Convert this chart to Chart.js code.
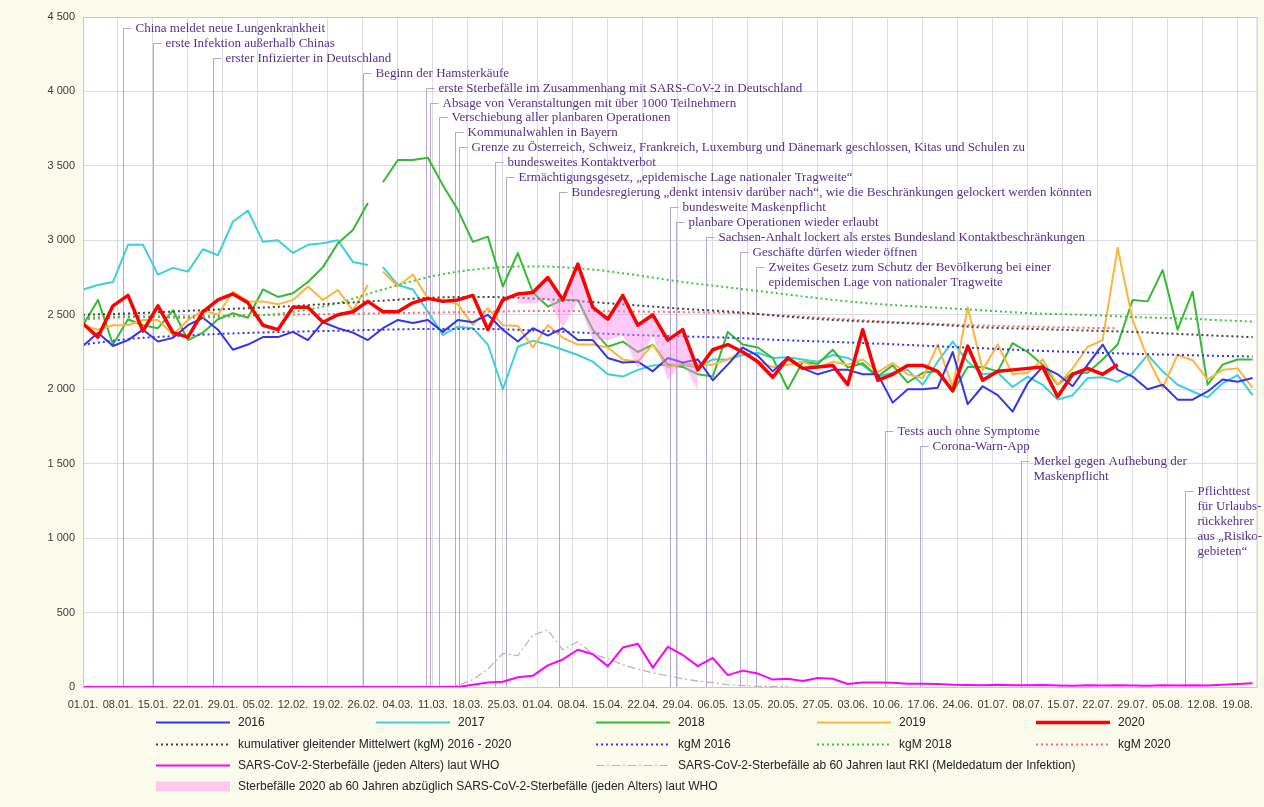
<!DOCTYPE html>
<html>
<head>
<meta charset="utf-8">
<script src="https://cdn.jsdelivr.net/npm/chart.js@4.4.1/dist/chart.umd.min.js"></script>
<style>
  html, body { margin: 0; padding: 0; background: #fbfbec; }
  #wrap { width: 1264px; height: 807px; }
</style>
</head>
<body>
<div id="wrap"><canvas id="sterbefaelle" width="1264" height="807"></canvas></div>
<script>
// x axis: day of year (01.01. = 0), one label per week
var weekLabels = ['01.01.', '08.01.', '15.01.', '22.01.', '29.01.', '05.02.', '12.02.', '19.02.', '26.02.',
  '04.03.', '11.03.', '18.03.', '25.03.', '01.04.', '08.04.', '15.04.', '22.04.', '29.04.', '06.05.',
  '13.05.', '20.05.', '27.05.', '03.06.', '10.06.', '17.06.', '24.06.', '01.07.', '08.07.', '15.07.',
  '22.07.', '29.07.', '05.08.', '12.08.', '19.08.'];
var yTickLabels = ['0', '500', '1 000', '1 500', '2 000', '2 500', '3 000', '3 500', '4 000', '4 500'];

// daily deaths, read every 3rd day
var sampleDays = [];
for (var d = 0; d <= 234; d += 3) sampleDays.push(d);

var deaths2016 = [2290, 2380, 2290, 2330, 2400, 2320, 2345, 2430, 2480, 2400,
  2265, 2300, 2350, 2350, 2385, 2330, 2450, 2410, 2380, 2330,
  2410, 2465, 2445, 2465, 2385, 2465, 2450, 2500, 2400, 2320,
  2410, 2360, 2410, 2330, 2330, 2210, 2180, 2185, 2120, 2210,
  2180, 2200, 2060, 2165, 2280, 2225, 2120, 2215, 2140, 2100,
  2130, 2130, 2100, 2100, 1910, 2000, 2000, 2010, 2250, 1900,
  2020, 1960, 1850, 2040, 2150, 2100, 2020, 2165, 2300, 2130,
  2085, 2000, 2030, 1930, 1930, 1985, 2065, 2050, 2075];
var deaths2017 = [2670, 2700, 2720, 2970, 2970, 2770, 2815, 2790, 2940, 2900,
  3125, 3200, 2990, 3000, 2915, 2970, 2980, 3000, 2855, 2835,
  2820, 2700, 2670, 2520, 2365, 2420, 2410, 2300, 2000, 2285,
  2325, 2300, 2265, 2230, 2185, 2100, 2085, 2130, 2160, 2165,
  2165, 2145, 2200, 2200, 2230, 2245, 2210, 2215, 2200, 2185,
  2230, 2210, 2160, 2085, 2110, 2130, 2030, 2185, 2320, 2185,
  2100, 2110, 2015, 2085, 2030, 1930, 1960, 2075, 2080, 2050,
  2110, 2230, 2120, 2030, 1985, 1945, 2040, 2095, 1960];
var deaths2018 = [2430, 2600, 2300, 2470, 2430, 2410, 2530, 2330, 2380, 2470,
  2510, 2480, 2670, 2620, 2645, 2720, 2820, 2980, 3070, 3250,
  3390, 3540, 3540, 3555, 3370, 3205, 2990, 3025, 2690, 2915,
  2650, 2555, 2600, 2600, 2400, 2285, 2320, 2250, 2300, 2165,
  2150, 2100, 2085, 2385, 2300, 2280, 2210, 2000, 2185, 2170,
  2265, 2145, 2175, 2085, 2160, 2045, 2110, 2120, 1980, 2150,
  2150, 2120, 2310, 2250, 2165, 2030, 2110, 2110, 2200, 2300,
  2600, 2590, 2800, 2400, 2655, 2030, 2165, 2200, 2200];
var deaths2019 = [2430, 2400, 2430, 2430, 2465, 2465, 2365, 2465, 2530, 2500,
  2655, 2590, 2590, 2570, 2600, 2690, 2600, 2665, 2530, 2700,
  2790, 2690, 2770, 2610, 2600, 2570, 2430, 2545, 2430, 2425,
  2280, 2430, 2345, 2300, 2300, 2280, 2200, 2185, 2300, 2145,
  2175, 2165, 2165, 2200, 2250, 2185, 2150, 2165, 2185, 2145,
  2185, 2165, 2200, 2115, 2175, 2100, 2075, 2300, 2015, 2550,
  2130, 2300, 2100, 2110, 2200, 2030, 2140, 2285, 2330, 2950,
  2465, 2210, 2010, 2230, 2195, 2065, 2130, 2140, 2010];
var deaths2020 = [2440, 2350, 2560, 2630, 2390, 2560, 2380, 2350, 2520, 2600,
  2640, 2580, 2430, 2400, 2550, 2550, 2450, 2500, 2520, 2590,
  2520, 2520, 2580, 2610, 2590, 2600, 2630, 2400, 2600, 2640,
  2650, 2750, 2600, 2840, 2550, 2470, 2630, 2430, 2500, 2330,
  2400, 2130, 2265, 2300, 2250, 2185, 2080, 2210, 2140, 2150,
  2160, 2030, 2400, 2060, 2100, 2160, 2160, 2120, 1990, 2290,
  2060, 2120, 2130, 2140, 2150, 1950, 2100, 2140, 2100, 2165];
var covidWho = [0, 0, 0, 0, 0, 0, 0, 0, 0, 0,
  0, 0, 0, 0, 0, 0, 0, 0, 0, 0,
  0, 0, 0, 0, 0, 0,
  15, 30, 35, 65, 75, 145, 185, 250, 220, 140,
  265, 290, 130, 270, 215, 140, 195, 80, 110, 90,
  50, 55, 40, 60, 55, 20, 30, 30, 28, 22,
  22, 20, 15, 14, 12, 15, 12, 12, 14, 10,
  8, 12, 10, 12, 10, 8, 12, 10, 12, 10, 15, 20, 25];
var covidRki60 = [null, null, null, null, null, null, null, null, null, null,
  null, null, null, null, null, null, null, null, null, null,
  null, null,
  0, 0, 3, 10, 50, 120, 225, 210, 349, 383,
  250, 305, 220, 190, 150, 120, 95, 75, 55, 40,
  30, 15, 10, 5, 3, 2];
// days where the 2020 line is shaded against the WHO count
var bandStart = 87, bandEnd = 123;

// cumulative moving averages
var kgmDays = [0, 10, 20, 30, 40, 50, 60, 70, 80, 90, 100, 110, 120, 130, 140, 150, 160, 170, 180, 190, 200, 210, 220, 230, 234];
var kgmAll = [2500, 2510, 2525, 2540, 2555, 2575, 2595, 2615, 2620, 2610, 2590, 2565, 2540, 2520, 2490, 2465, 2450, 2435, 2415, 2405, 2395, 2385, 2370, 2355, 2350];
var kgm2016 = [2300, 2340, 2360, 2375, 2385, 2392, 2400, 2405, 2405, 2395, 2380, 2365, 2355, 2345, 2330, 2318, 2305, 2290, 2275, 2260, 2248, 2238, 2230, 2222, 2220];
var kgm2018 = [2480, 2490, 2480, 2490, 2510, 2570, 2670, 2760, 2810, 2825, 2810, 2770, 2720, 2680, 2640, 2600, 2570, 2550, 2530, 2510, 2500, 2485, 2475, 2460, 2455];
var kgm2020Days = [0, 10, 20, 30, 40, 50, 60, 70, 80, 90, 100, 110, 120, 130, 140, 150, 160, 170, 180, 190, 200, 207];
var kgm2020 = [2470, 2485, 2490, 2495, 2500, 2505, 2510, 2515, 2520, 2525, 2525, 2522, 2518, 2512, 2495, 2475, 2455, 2440, 2428, 2420, 2413, 2410];

// events
var eventDays = [8.1, 14.1, 26.1, 56.1, 68.6, 69.5, 71.3, 74.4, 75.3, 82.5, 84.6, 95.3, 117.5, 118.6, 124.6, 131.5, 134.6, 160.4, 167.4, 187.7, 220.4];
var eventTexts = [
  ['China meldet neue Lungenkrankheit'],
  ['erste Infektion außerhalb Chinas'],
  ['erster Infizierter in Deutschland'],
  ['Beginn der Hamsterkäufe'],
  ['erste Sterbefälle im Zusammenhang mit SARS-CoV-2 in Deutschland'],
  ['Absage von Veranstaltungen mit über 1000 Teilnehmern'],
  ['Verschiebung aller planbaren Operationen'],
  ['Kommunalwahlen in Bayern'],
  ['Grenze zu Österreich, Schweiz, Frankreich, Luxemburg und Dänemark geschlossen, Kitas und Schulen zu'],
  ['bundesweites Kontaktverbot'],
  ['Ermächtigungsgesetz, „epidemische Lage nationaler Tragweite“'],
  ['Bundesregierung „denkt intensiv darüber nach“, wie die Beschränkungen gelockert werden könnten'],
  ['bundesweite Maskenpflicht'],
  ['planbare Operationen wieder erlaubt'],
  ['Sachsen-Anhalt lockert als erstes Bundesland Kontaktbeschränkungen'],
  ['Geschäfte dürfen wieder öffnen'],
  ['Zweites Gesetz zum Schutz der Bevölkerung bei einer', 'epidemischen Lage von nationaler Tragweite'],
  ['Tests auch ohne Symptome'],
  ['Corona-Warn-App'],
  ['Merkel gegen Aufhebung der', 'Maskenpflicht'],
  ['Pflichttest', 'für Urlaubs-', 'rückkehrer', 'aus „Risiko-', 'gebieten“']
];
// height (in deaths) where each event label sits
var eventLabelLevels = [4426, 4326, 4225, 4124, 4023, 3923, 3829, 3728, 3628, 3527, 3426, 3326, 3225, 3124, 3024, 2923, 2822, 1721, 1621, 1520, 1319];

function toPoints(days, values) {
  var pts = [];
  for (var i = 0; i < values.length; i++) pts.push({ x: days[i], y: values[i] });
  return pts;
}
// no 29.02. outside leap years -> break the line there
function leapGap(pts) {
  var out = [];
  pts.forEach(function (p) {
    if (p.x > 59 && out.length && out[out.length - 1].x < 59) out.push({ x: 59, y: null });
    out.push(p);
  });
  return out;
}
function bandPoints() {
  var pts = [];
  for (var i = 0; i < deaths2020.length; i++) {
    if (sampleDays[i] >= bandStart && sampleDays[i] <= bandEnd)
      pts.push({ x: sampleDays[i], y: deaths2020[i] - covidWho[i] });
  }
  return pts;
}

var dots = [2, 3];
var datasets = [
  { label: '2020', data: toPoints(sampleDays, deaths2020), borderColor: '#ff0000', borderWidth: 3.5, order: 0, slot: [0, 4] },
  { label: 'Sterbefälle 2020 ab 60 Jahren abzüglich SARS-CoV-2-Sterbefälle (jeden Alters) laut WHO',
    data: bandPoints(), borderWidth: 0, borderColor: 'rgba(0,0,0,0)', backgroundColor: 'rgba(255,140,235,0.45)', fill: '-1', order: 1, slot: [3, 0] },
  { label: 'kumulativer gleitender Mittelwert (kgM) 2016 - 2020', data: toPoints(kgmDays, kgmAll), borderColor: '#444444', borderWidth: 2, borderDash: dots, cubicInterpolationMode: 'monotone', order: 2, slot: [1, 0] },
  { label: 'kgM 2016', data: toPoints(kgmDays, kgm2016), borderColor: '#3333ff', borderWidth: 2, borderDash: dots, cubicInterpolationMode: 'monotone', order: 2, slot: [1, 2] },
  { label: 'kgM 2018', data: toPoints(kgmDays, kgm2018), borderColor: '#33cc33', borderWidth: 2, borderDash: dots, cubicInterpolationMode: 'monotone', order: 2, slot: [1, 3] },
  { label: 'kgM 2020', data: toPoints(kgm2020Days, kgm2020), borderColor: '#ff6a6a', borderWidth: 2, borderDash: dots, cubicInterpolationMode: 'monotone', order: 2, slot: [1, 4] },
  { label: '2016', data: toPoints(sampleDays, deaths2016), borderColor: '#3535ee', borderWidth: 2, order: 3, slot: [0, 0] },
  { label: '2019', data: leapGap(toPoints(sampleDays, deaths2019)), borderColor: '#ffb43c', borderWidth: 2, order: 4, slot: [0, 3] },
  { label: '2018', data: leapGap(toPoints(sampleDays, deaths2018)), borderColor: '#33bb33', borderWidth: 2, order: 5, slot: [0, 2] },
  { label: '2017', data: leapGap(toPoints(sampleDays, deaths2017)), borderColor: '#3cd0da', borderWidth: 2, order: 6, slot: [0, 1] },
  { label: 'SARS-CoV-2-Sterbefälle (jeden Alters) laut WHO', data: toPoints(sampleDays, covidWho), borderColor: '#ff00ff', borderWidth: 2, order: 7, slot: [2, 0] },
  { label: 'SARS-CoV-2-Sterbefälle ab 60 Jahren laut RKI (Meldedatum der Infektion)', data: toPoints(sampleDays, covidRki60), borderColor: '#b4b4b4', borderWidth: 1.2, borderDash: [8, 3, 2, 3], order: 8, slot: [2, 2] }
];

var backdrop = {
  id: 'backdrop',
  beforeDraw: function (chart) {
    var ctx = chart.ctx, a = chart.chartArea;
    ctx.save();
    ctx.fillStyle = '#fbfbec';
    ctx.fillRect(0, 0, chart.width, chart.height);
    ctx.fillStyle = '#ffffff';
    ctx.fillRect(a.left, a.top, a.right - a.left, a.bottom - a.top);
    ctx.restore();
  },
  afterDraw: function (chart) {
    var ctx = chart.ctx, a = chart.chartArea;
    ctx.save();
    ctx.strokeStyle = '#c8c8c8';
    ctx.lineWidth = 1;
    ctx.strokeRect(a.left + 0.5, a.top + 0.5, a.right - a.left, a.bottom - a.top);
    ctx.restore();
  }
};

var eventMarks = {
  id: 'eventMarks',
  beforeDatasetsDraw: function (chart) {
    var ctx = chart.ctx, xs = chart.scales.x, ys = chart.scales.y, bottom = chart.chartArea.bottom;
    ctx.save();
    ctx.font = '13px "Liberation Serif", "DejaVu Serif", serif';
    ctx.textBaseline = 'middle';
    eventDays.forEach(function (day, i) {
      var x = Math.round(xs.getPixelForValue(day)) + 0.5;
      var y = Math.round(ys.getPixelForValue(eventLabelLevels[i])) + 0.5;
      ctx.strokeStyle = 'rgba(150,128,195,0.7)';
      ctx.lineWidth = 1;
      ctx.beginPath();
      ctx.moveTo(x + 8, y);
      ctx.lineTo(x, y);
      ctx.lineTo(x, bottom);
      ctx.stroke();
      ctx.fillStyle = '#55308f';
      eventTexts[i].forEach(function (line, k) {
        ctx.fillText(line, x + 12, y + k * 15);
      });
    });
    ctx.restore();
  }
};

// legend laid out as a grid under the axis
var legendRows = [722, 744, 765, 786];
var legendCols = [156, 376, 596, 817, 1036];
var legendGrid = {
  id: 'legendGrid',
  afterDraw: function (chart) {
    var ctx = chart.ctx;
    ctx.save();
    ctx.font = '12px "Liberation Sans", Arial, sans-serif';
    ctx.textBaseline = 'middle';
    chart.data.datasets.forEach(function (ds) {
      var x = legendCols[ds.slot[1]], y = legendRows[ds.slot[0]];
      ctx.beginPath();
      if (ds.fill) {
        ctx.strokeStyle = ds.backgroundColor;
        ctx.lineWidth = 10;
        ctx.setLineDash([]);
      } else {
        ctx.strokeStyle = ds.borderColor;
        ctx.lineWidth = ds.borderWidth;
        ctx.setLineDash(ds.borderDash || []);
      }
      ctx.moveTo(x, y + 0.5);
      ctx.lineTo(x + 74, y + 0.5);
      ctx.stroke();
      ctx.setLineDash([]);
      ctx.fillStyle = '#222222';
      ctx.fillText(ds.label, x + 82, y + 1);
    });
    ctx.restore();
  }
};

var tickFont = { family: '"Liberation Sans", Arial, sans-serif', size: 11 };

new Chart(document.getElementById('sterbefaelle'), {
  type: 'line',
  data: { datasets: datasets },
  options: {
    responsive: false,
    animation: false,
    devicePixelRatio: 1,
    layout: { padding: { top: 17, right: 7, left: 0, bottom: 0 } },
    elements: {
      point: { radius: 0 },
      line: { tension: 0, borderJoinStyle: 'round', fill: false }
    },
    plugins: {
      legend: { display: false },
      tooltip: { enabled: false }
    },
    scales: {
      x: {
        type: 'linear',
        min: 0,
        max: 234.8,
        afterFit: function (s) { s.height = 120; },
        afterBuildTicks: function (s) {
          s.ticks = weekLabels.map(function (l, i) { return { value: i * 7 }; });
        },
        grid: { color: '#dddbe3', drawTicks: false },
        border: { color: '#b0b0b0' },
        ticks: {
          autoSkip: false,
          maxRotation: 0,
          padding: 11,
          color: '#3a3a3a',
          font: tickFont,
          callback: function (v) { return weekLabels[Math.round(v / 7)]; }
        }
      },
      y: {
        min: 0,
        max: 4500,
        afterFit: function (s) { s.width = 83; },
        afterBuildTicks: function (s) {
          s.ticks = yTickLabels.map(function (l, i) { return { value: i * 500 }; });
        },
        grid: { color: '#dddbe3', drawTicks: false },
        border: { color: '#b0b0b0' },
        ticks: {
          padding: 8,
          color: '#3a3a3a',
          font: tickFont,
          callback: function (v) { return yTickLabels[Math.round(v / 500)]; }
        }
      }
    }
  },
  plugins: [backdrop, eventMarks, legendGrid]
});
</script>
</body>
</html>
